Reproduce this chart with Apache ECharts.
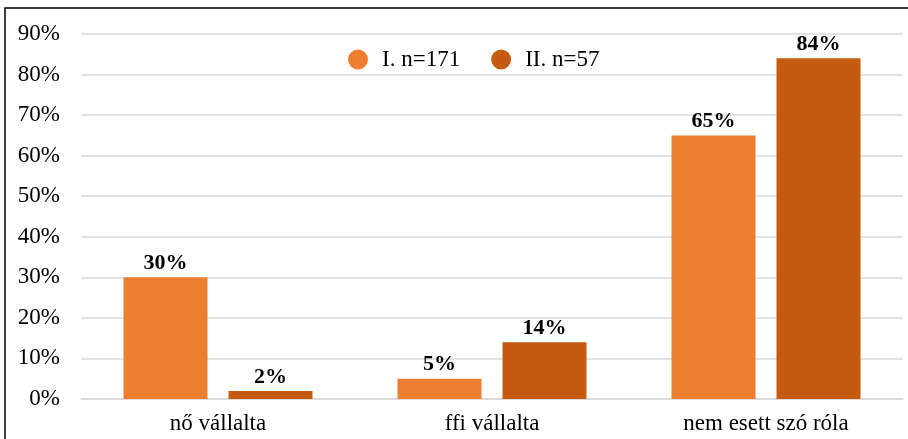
<!DOCTYPE html>
<html>
<head>
<meta charset="utf-8">
<script src="https://cdn.jsdelivr.net/npm/echarts@6/dist/echarts.min.js"></script>
<style>
  html, body { margin: 0; padding: 0; background: #fff; }
  #chart { width: 908px; height: 439px; }
</style>
</head>
<body>
<div id="chart"></div>
<script>
const categories = ['nő vállalta', 'ffi vállalta', 'nem esett szó róla'];
const seriesNames = ['I. n=171', 'II. n=57'];
const valuesI = [30, 5, 65];
const valuesII = [2, 14, 84];

const font = '"Liberation Serif", "Times New Roman", serif';
const chart = echarts.init(document.getElementById('chart'));

const labelStyle = {
  show: true,
  position: 'top',
  formatter: '{c}%',
  fontFamily: font,
  fontWeight: 'bold',
  fontSize: 22,
  color: '#000',
  distance: 3
};

chart.setOption({
  animation: false,
  backgroundColor: '#fff',
  graphic: [{
    type: 'rect',
    shape: { x: 5, y: 8, width: 1000, height: 1000 },
    style: { fill: 'none', stroke: '#000', lineWidth: 1.5 }
  }],
  legend: {
    top: 43,
    left: 343,
    icon: 'circle',
    itemWidth: 20,
    itemHeight: 20,
    itemGap: 31,
    textStyle: { fontFamily: font, fontSize: 23, color: '#000', padding: [0, 0, 0, 9] },
    data: seriesNames
  },
  grid: { left: 81, right: 5, top: 34, bottom: 40 },
  xAxis: {
    type: 'category',
    data: categories,
    axisLine: { lineStyle: { color: '#d9d9d9', width: 1.5 } },
    axisTick: { show: false },
    axisLabel: { fontFamily: font, fontSize: 23, color: '#000', margin: 13 }
  },
  yAxis: {
    type: 'value',
    min: 0,
    max: 90,
    interval: 10,
    axisLine: { show: false },
    axisTick: { show: false },
    splitLine: { lineStyle: { color: '#d9d9d9', width: 1.5 } },
    axisLabel: { formatter: '{value}%', fontFamily: font, fontSize: 23, color: '#000', margin: 21 }
  },
  series: [
    {
      name: seriesNames[0],
      type: 'bar',
      data: valuesI,
      barWidth: 84,
      barGap: '25%',
      itemStyle: { color: '#ED7D31' },
      label: labelStyle
    },
    {
      name: seriesNames[1],
      type: 'bar',
      data: valuesII,
      barWidth: 84,
      barGap: '25%',
      itemStyle: { color: '#C55A11' },
      label: labelStyle
    }
  ]
});
</script>
</body>
</html>
